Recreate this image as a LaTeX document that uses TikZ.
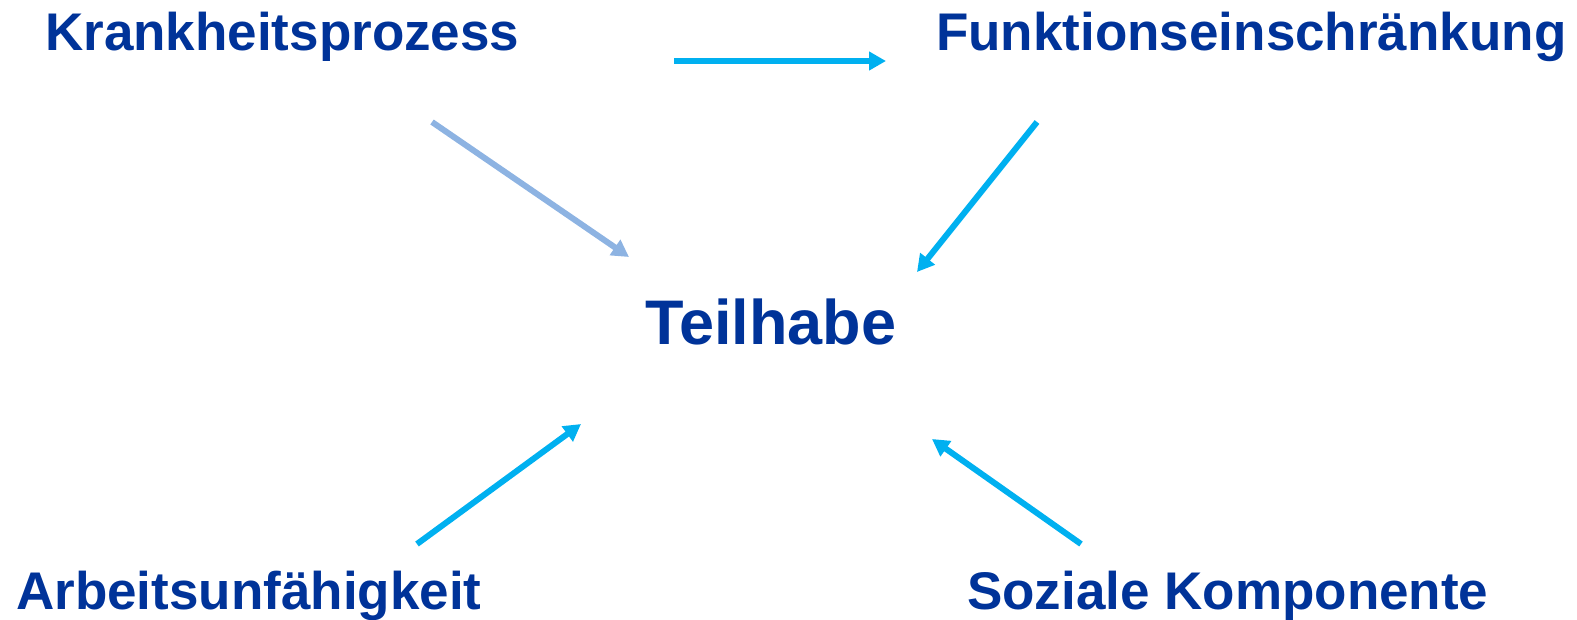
\documentclass[tikz,border=0pt]{standalone}
\usepackage{fontspec}
\setmainfont{Liberation Sans}
\usetikzlibrary{arrows.meta}
\definecolor{txtblue}{HTML}{003399}
\definecolor{cyanarr}{HTML}{00B0F0}
\definecolor{lightarr}{HTML}{8DB3E2}
\tikzset{
  lbl/.style={inner sep=0pt, anchor=base west, text=txtblue, font=\fontsize{53}{60}\selectfont\bfseries},
  biglbl/.style={lbl, font=\fontsize{63}{70}\selectfont\bfseries},
  conn/.style={line width=6pt, -{Triangle[length=17pt,width=18pt]}, draw=cyanarr},
  connlight/.style={conn, draw=lightarr}
}
\begin{document}
\begin{tikzpicture}[x=1pt,y=-1pt]
\useasboundingbox (0,0) rectangle (1577,619);
\node[lbl] (krank) at (45,50) {Krankheitsprozess};
\node[lbl] (funk) at (936,50) {Funktionseinschränkung};
\node[biglbl] (teil) at (645,344) {Teilhabe};
\node[lbl] (arb) at (16,609) {Arbeitsunfähigkeit};
\node[lbl] (soz) at (967,609) {Soziale Komponente};
\coordinate (h1) at (674,61);
\coordinate (h2) at (886,61);
\coordinate (k1) at (432,122);
\coordinate (k2) at (629,257);
\coordinate (f1) at (1037,122);
\coordinate (f2) at (917,272);
\coordinate (a1) at (417,544);
\coordinate (a2) at (581,424);
\coordinate (s1) at (1081,544);
\coordinate (s2) at (932,439);
\draw[conn] (h1) -- (h2);
\draw[connlight] (k1) -- (k2);
\draw[conn] (f1) -- (f2);
\draw[conn] (a1) -- (a2);
\draw[conn] (s1) -- (s2);
\end{tikzpicture}
\end{document}
